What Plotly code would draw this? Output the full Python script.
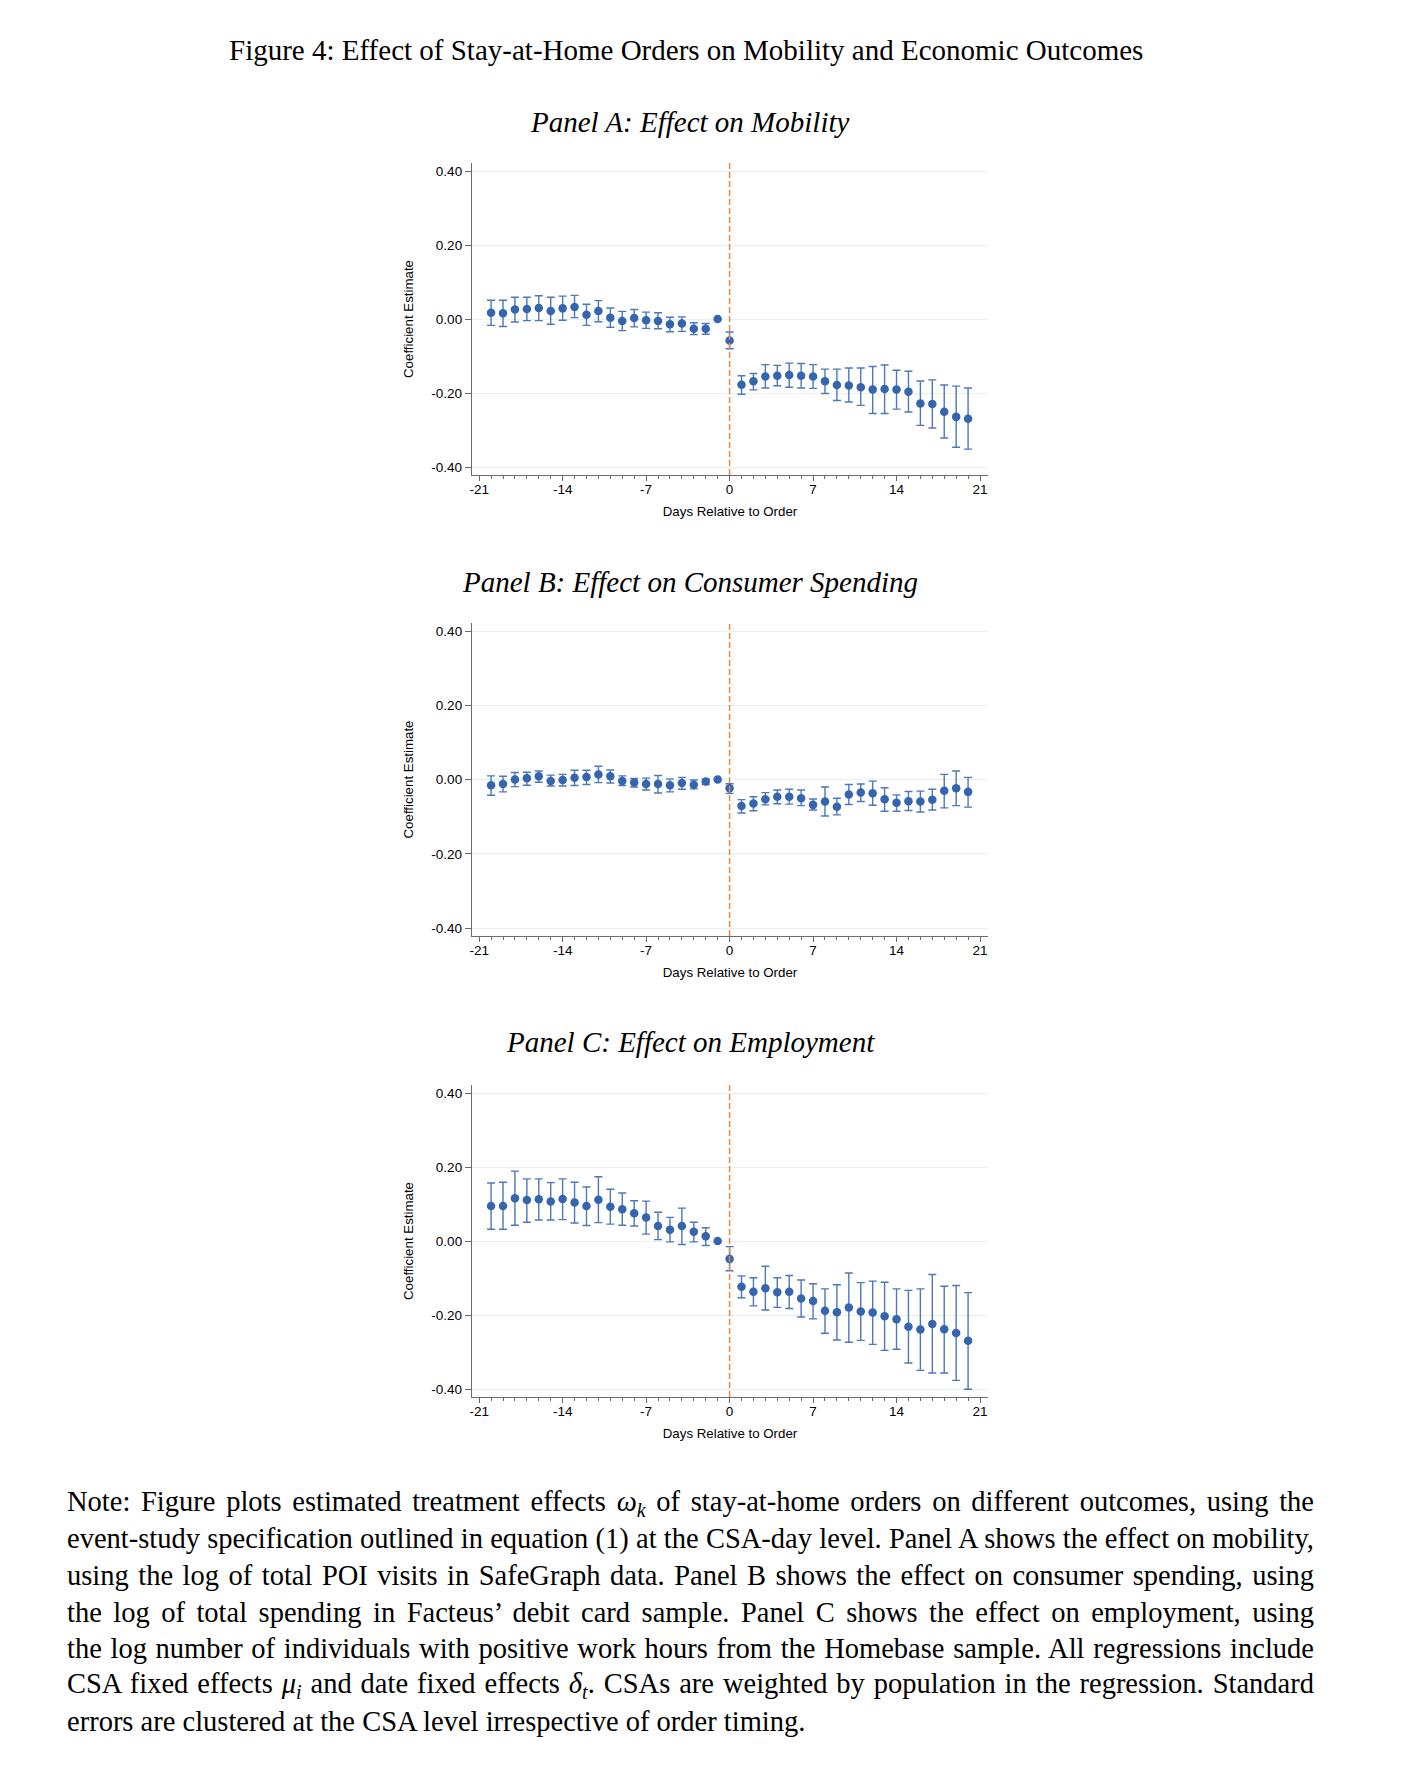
import plotly.graph_objects as go

days = list(range(-20, 21))

# Panel A: Mobility
a_coef = [0.017, 0.016, 0.026, 0.027, 0.030, 0.022, 0.029, 0.033, 0.012, 0.022,
          0.004, -0.005, 0.003, -0.003, -0.005, -0.014, -0.012, -0.026, -0.026, 0.0,
          -0.058, -0.177, -0.168, -0.155, -0.153, -0.151, -0.153, -0.155, -0.168, -0.178,
          -0.179, -0.184, -0.190, -0.189, -0.190, -0.196, -0.228, -0.229, -0.250, -0.264, -0.269]
a_hi = [0.051, 0.051, 0.059, 0.059, 0.063, 0.059, 0.062, 0.064, 0.040, 0.050,
        0.030, 0.021, 0.026, 0.019, 0.017, 0.005, 0.006, -0.010, -0.012, None,
        -0.035, -0.153, -0.147, -0.123, -0.125, -0.119, -0.120, -0.123, -0.135, -0.135,
        -0.132, -0.132, -0.128, -0.124, -0.138, -0.141, -0.167, -0.164, -0.178, -0.181, -0.186]
a_lo = [-0.017, -0.020, -0.008, -0.004, -0.004, -0.014, -0.003, 0.004, -0.017, -0.007,
        -0.022, -0.031, -0.021, -0.025, -0.026, -0.034, -0.033, -0.042, -0.041, None,
        -0.080, -0.203, -0.191, -0.186, -0.180, -0.184, -0.186, -0.187, -0.201, -0.220,
        -0.224, -0.233, -0.255, -0.255, -0.243, -0.251, -0.287, -0.294, -0.321, -0.346, -0.351]

# Panel B: Consumer spending
b_coef = [-0.015, -0.012, 0.000, 0.004, 0.009, -0.004, -0.001, 0.005, 0.007, 0.014,
          0.009, -0.004, -0.008, -0.012, -0.012, -0.015, -0.009, -0.014, -0.005, 0.0,
          -0.023, -0.071, -0.064, -0.053, -0.046, -0.046, -0.050, -0.068, -0.059, -0.073,
          -0.040, -0.035, -0.037, -0.053, -0.062, -0.058, -0.059, -0.054, -0.030, -0.023, -0.033]
b_hi = [0.010, 0.009, 0.019, 0.020, 0.023, 0.012, 0.014, 0.025, 0.025, 0.036,
        0.026, 0.010, 0.003, 0.004, 0.011, 0.002, 0.006, -0.001, 0.001, None,
        -0.011, -0.054, -0.046, -0.035, -0.028, -0.026, -0.028, -0.052, -0.020, -0.050,
        -0.013, -0.012, -0.004, -0.022, -0.041, -0.032, -0.031, -0.026, 0.014, 0.023, 0.006]
b_lo = [-0.042, -0.033, -0.019, -0.015, -0.007, -0.017, -0.017, -0.016, -0.013, -0.008,
        -0.009, -0.016, -0.020, -0.028, -0.036, -0.033, -0.026, -0.025, -0.013, None,
        -0.037, -0.090, -0.084, -0.068, -0.065, -0.066, -0.070, -0.082, -0.098, -0.095,
        -0.067, -0.059, -0.069, -0.085, -0.085, -0.083, -0.087, -0.082, -0.076, -0.070, -0.074]

# Panel C: Employment
c_coef = [0.095, 0.095, 0.116, 0.111, 0.113, 0.107, 0.114, 0.104, 0.095, 0.112,
          0.093, 0.086, 0.075, 0.064, 0.041, 0.031, 0.041, 0.025, 0.013, 0.0,
          -0.048, -0.123, -0.137, -0.127, -0.138, -0.137, -0.155, -0.162, -0.188, -0.192,
          -0.179, -0.190, -0.193, -0.203, -0.211, -0.231, -0.239, -0.224, -0.238, -0.248, -0.269]
c_hi = [0.157, 0.159, 0.189, 0.168, 0.168, 0.158, 0.168, 0.159, 0.146, 0.174,
        0.140, 0.130, 0.109, 0.108, 0.078, 0.064, 0.089, 0.051, 0.036, None,
        -0.015, -0.094, -0.099, -0.068, -0.099, -0.093, -0.105, -0.115, -0.129, -0.118,
        -0.086, -0.112, -0.108, -0.111, -0.129, -0.133, -0.129, -0.090, -0.122, -0.120, -0.139]
c_lo = [0.032, 0.032, 0.043, 0.051, 0.057, 0.057, 0.058, 0.049, 0.042, 0.050,
        0.046, 0.043, 0.041, 0.019, 0.004, -0.002, -0.009, -0.002, -0.012, None,
        -0.080, -0.153, -0.175, -0.186, -0.179, -0.182, -0.205, -0.210, -0.249, -0.267,
        -0.273, -0.268, -0.279, -0.295, -0.292, -0.329, -0.349, -0.356, -0.356, -0.376, -0.400]

panel_titles = ["Panel A: Effect on Mobility",
                "Panel B: Effect on Consumer Spending",
                "Panel C: Effect on Employment"]

x_tickvals = [-21, -14, -7, 0, 7, 14, 21]
x_ticktext = ["-21", "-14", "-7", "0", "7", "14", "21"]
y_tickvals = [-0.4, -0.2, 0.0, 0.2, 0.4]
y_ticktext = ["-0.40", "-0.20", "0.00", "0.20", "0.40"]

fig_title = "Figure 4: Effect of Stay-at-Home Orders on Mobility and Economic Outcomes"
note_lines = [
    "Note: Figure plots estimated treatment effects <i>ω<sub>k</sub></i> of stay-at-home orders on different outcomes, using the",
    "event-study specification outlined in equation (1) at the CSA-day level. Panel A shows the effect on mobility,",
    "using the log of total POI visits in SafeGraph data. Panel B shows the effect on consumer spending, using",
    "the log of total spending in Facteus\u2019 debit card sample. Panel C shows the effect on employment, using",
    "the log number of individuals with positive work hours from the Homebase sample. All regressions include",
    "CSA fixed effects <i>μ<sub>i</sub></i> and date fixed effects <i>δ<sub>t</sub></i>. CSAs are weighted by population in the regression. Standard",
    "errors are clustered at the CSA level irrespective of order timing.",
]

OFF = 8  # browser body margin
W, H = 1404 - OFF, 1770 - OFF
MARKER = "#3565ae"
BAR = "#4d78ba"
ORANGE = "#e58a45"
AXIS = "#6b6b6b"
GRID = "#e9f0f3"
SANS = "Liberation Sans, Arial, sans-serif"
SERIF = "Liberation Serif, Times New Roman, serif"

# pixel layout (page pixels) of each panel's plot area (top, bottom)
panel_px = [(163, 475), (623, 936), (1085, 1397)]
x_px = (472, 988)
title_px = [122, 582, 1042]

def py(p):
    return 1 - (p - OFF) / H

def px(p):
    return (p - OFF) / W

fig = go.Figure()
data = [(a_coef, a_lo, a_hi), (b_coef, b_lo, b_hi), (c_coef, c_lo, c_hi)]

for i, (coef, lo, hi) in enumerate(data):
    n = i + 1
    xa = "x" if n == 1 else f"x{n}"
    ya = "y" if n == 1 else f"y{n}"
    vis = [h is not None for h in hi]
    plus = [h - c for c, h, v in zip(coef, hi, vis) if v]
    minus = [c - l for c, l, v in zip(coef, lo, vis) if v]
    fig.add_trace(go.Scatter(
        x=[d for d, v in zip(days, vis) if v],
        y=[c for c, v in zip(coef, vis) if v],
        mode="markers",
        marker=dict(size=8, color=MARKER, opacity=0),
        error_y=dict(type="data", symmetric=False, array=plus, arrayminus=minus,
                     color=BAR, thickness=1.4, width=4),
        xaxis=xa, yaxis=ya, showlegend=False, hoverinfo="skip"))
    fig.add_trace(go.Scatter(
        x=days, y=coef, mode="markers",
        marker=dict(size=8.5, color=MARKER),
        xaxis=xa, yaxis=ya, showlegend=False))
    top, bot = panel_px[i]
    fig.update_layout(**{
        ("xaxis" if n == 1 else f"xaxis{n}"): dict(
            domain=[px(x_px[0]), px(x_px[1])], anchor=ya,
            range=[-21.6, 21.67],
            tickmode="array", tickvals=x_tickvals, ticktext=x_ticktext,
            ticks="outside", ticklen=5, tickwidth=1, tickcolor=AXIS,
            ticklabelstandoff=-3,
            minor=dict(dtick=1, tick0=0, ticks="outside", ticklen=3, tickwidth=1, tickcolor=AXIS),
            showline=True, linecolor=AXIS, linewidth=1.3,
            showgrid=False, zeroline=False,
            tickfont=dict(family=SANS, size=13.5, color="black"),
            title=dict(text="Days Relative to Order", standoff=10,
                       font=dict(family=SANS, size=13.3, color="black")),
            automargin=False),
        ("yaxis" if n == 1 else f"yaxis{n}"): dict(
            domain=[py(bot), py(top)], anchor=xa,
            range=[-0.421, 0.4216],
            tickmode="array", tickvals=y_tickvals, ticktext=y_ticktext,
            ticks="outside", ticklen=6, tickwidth=1, tickcolor=AXIS,
            showline=True, linecolor=AXIS, linewidth=1.3,
            showgrid=True, gridcolor=GRID, gridwidth=1, zeroline=False,
            tickfont=dict(family=SANS, size=13.5, color="black"),
            title=dict(text="Coefficient Estimate", standoff=14,
                       font=dict(family=SANS, size=13.3, color="black")),
            automargin=False),
    })
    fig.add_shape(type="line", xref=xa, yref=f"{ya} domain", x0=0, x1=0, y0=0, y1=1,
                  line=dict(color=ORANGE, width=1.5, dash="6px,3px"))
    fig.add_annotation(text=f"<i>{panel_titles[i]}</i>", xref="paper", yref="paper",
                       x=px(690), y=py(title_px[i]), xanchor="center", yanchor="middle",
                       showarrow=False, font=dict(family=SERIF, size=29, color="black"))

fig.add_annotation(text=fig_title, xref="paper", yref="paper",
                   x=px(686), y=py(50), xanchor="center", yanchor="middle",
                   showarrow=False, font=dict(family=SERIF, size=29, color="black"))

NOTE_LEFT, NOTE_WIDTH = 65, 1247
note_y = [1503, 1539, 1575, 1612, 1648, 1685, 1721]
first_note_index = len(fig.layout.annotations)
for t, yy in zip(note_lines, note_y):
    fig.add_annotation(text=t, xref="paper", yref="paper", align="left",
                       x=px(NOTE_LEFT), y=py(yy), xanchor="left", yanchor="middle",
                       showarrow=False, font=dict(family=SERIF, size=28.5, color="black"))

fig.update_layout(width=W, height=H, margin=dict(l=0, r=0, t=0, b=0),
                  paper_bgcolor="white", plot_bgcolor="white")

# justify the note paragraph (all lines but the last), as in the typeset original
justify_js = """
(function(){
  var gd = document.getElementById('{plot_id}');
  function justify(){
    for (var k = %d; k < %d; k++) {
      var g = gd.querySelector('g.annotation[data-index="' + k + '"]');
      if (!g) continue;
      var t = g.querySelector('text.annotation-text');
      if (!t) continue;
      t.style.wordSpacing = '0px';
      var len = t.getComputedTextLength();
      var spaces = (t.textContent.match(/ /g) || []).length;
      if (spaces > 0) t.style.wordSpacing = ((%d - len) / spaces) + 'px';
    }
  }
  justify();
  if (gd.on) gd.on('plotly_afterplot', justify);
})();
""" % (first_note_index, first_note_index + len(note_lines) - 1, NOTE_WIDTH)

fig.write_html("out.html", post_script=justify_js)
